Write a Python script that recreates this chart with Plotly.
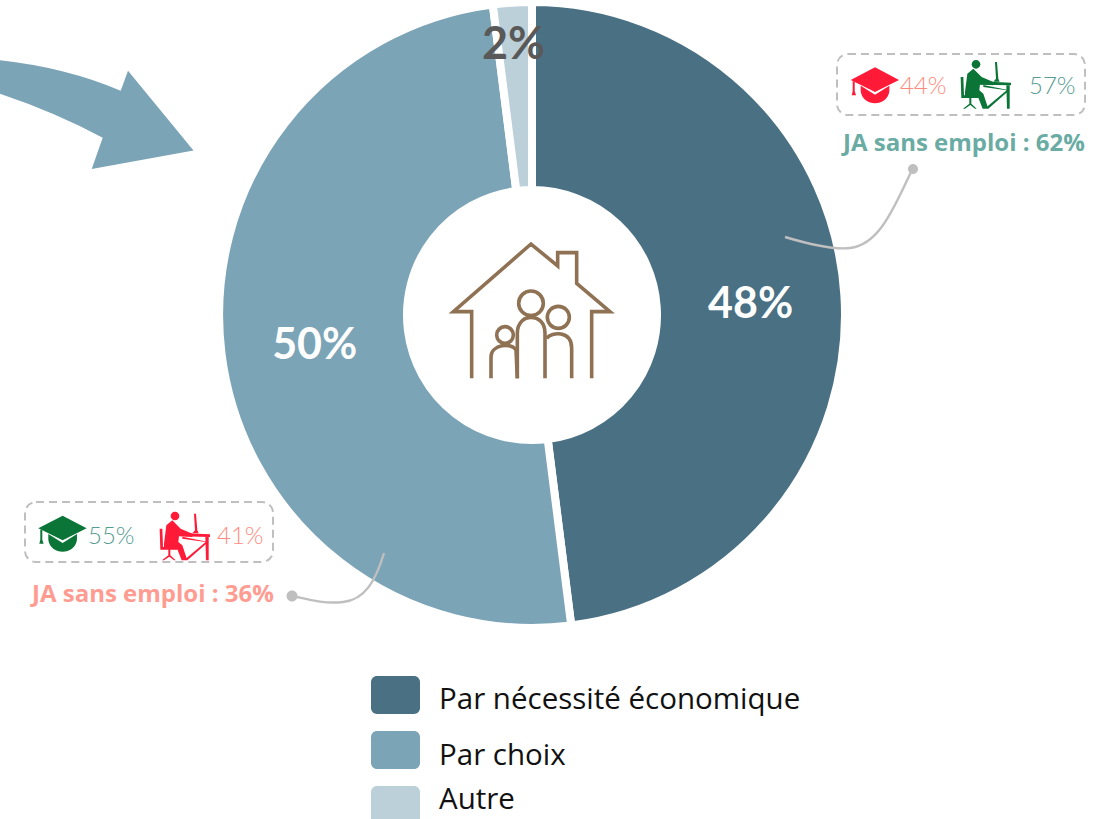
import re
import plotly.graph_objects as go

W, H = 1099, 819

# ---- data ----
categories = ["Par nécessité économique", "Par choix", "Autre"]
shares = [48, 50, 2]
slice_colors = ["#4a7083", "#7ca4b7", "#bcd0da"]
slice_text = ["48%", "50%", ""]
small_label = "2%"

callout_titles = ["JA sans emploi : 62%", "JA sans emploi : 36%"]
diploma_values = ["44%", "55%"]
work_values = ["57%", "41%"]

GREEN_TXT = "#6aaca3"
SALMON_TXT = "#ff9c91"
GREEN_THIN = "#559c92"
SALMON_THIN = "#ff8a7d"
GREEN = "#0a7537"
RED = "#ff1a38"
GREY = "#bfbfbf"
BROWN = "#8f7153"
FONT = "Lato"
FONT2 = "Open Sans"


def px(x):
    return x / W


def py(y):
    return 1 - y / H


def tf(path, ox=0.0, oy=0.0, s=1.0):
    """local pixel path -> paper path"""
    tokens = re.findall(r"[MLCQZ]|-?\d+\.?\d*", path)
    out, i = [], 0
    for t in tokens:
        if t in "MLCQZ":
            out.append(t)
        else:
            v = float(t)
            out.append(f"{px(ox + v * s) if i % 2 == 0 else py(oy + v * s):.5f}")
            i += 1
    return " ".join(out)


shapes = []


def add(path, fill=None, line=None, width=0, dash=None, ox=0.0, oy=0.0, s=1.0):
    shapes.append(dict(
        type="path", xref="paper", yref="paper", layer="above",
        path=tf(path, ox, oy, s),
        fillcolor=fill if fill else "rgba(0,0,0,0)",
        line=dict(color=line if line else "rgba(0,0,0,0)", width=width,
                  **({"dash": dash} if dash else {})),
    ))


def circle(cx, cy, r):
    k = 0.5523 * r
    return (f"M {cx-r} {cy} C {cx-r} {cy-k} {cx-k} {cy-r} {cx} {cy-r} "
            f"C {cx+k} {cy-r} {cx+r} {cy-k} {cx+r} {cy} "
            f"C {cx+r} {cy+k} {cx+k} {cy+r} {cx} {cy+r} "
            f"C {cx-k} {cy+r} {cx-r} {cy+k} {cx-r} {cy} Z")


def rrect(x0, y0, x1, y1, r):
    k = r * 0.45
    return (f"M {x0+r} {y0} L {x1-r} {y0} C {x1-k} {y0} {x1} {y0+k} {x1} {y0+r} "
            f"L {x1} {y1-r} C {x1} {y1-k} {x1-k} {y1} {x1-r} {y1} "
            f"L {x0+r} {y1} C {x0+k} {y1} {x0} {y1-k} {x0} {y1-r} "
            f"L {x0} {y0+r} C {x0} {y0+k} {x0+k} {y0} {x0+r} {y0} Z")


# big arrow
add("M -2 60 Q 65 67 120.7 90.7 L 128 70.7 L 193.5 150.5 L 91.7 169 L 102.7 137.7 "
    "Q 55 112 -2 93 Z", fill=slice_colors[1])

# house + family (zoom coords: 3x, origin 430,230)
hz = dict(ox=430, oy=230, s=1 / 3)
add("M 125 445 L 125 245 L 70 245 L 303 42 L 383 108 L 383 68 L 440 68 L 440 160 "
    "L 540 245 L 485 245 L 485 445", line=BROWN, width=3.6, **hz)
add(circle(303, 220, 37), line=BROWN, width=3.6, **hz)
add(circle(385, 262, 33), line=BROWN, width=3.6, **hz)
add(circle(225, 315, 25), line=BROWN, width=3.6, **hz)
add("M 262 445 L 262 310 C 262 275 285 262 303 262 C 325 262 345 278 345 310 L 345 445",
    line=BROWN, width=3.6, **hz)
add("M 350 325 C 365 305 425 300 425 355 L 425 445", line=BROWN, width=3.6, **hz)
add("M 183 445 L 183 380 C 183 345 245 335 258 360 L 262 445", line=BROWN, width=3.6, **hz)

# callout boxes and leaders
add(rrect(837, 54, 1085, 115, 11), line=GREY, width=2, dash="8px,5px")
add(rrect(25, 502, 273, 562, 11), line=GREY, width=2, dash="8px,5px")
add("M 785 237 C 815 246 835 250 850 248 C 880 245 895 205 912 170", line=GREY, width=2.4)
add(circle(913, 169, 5), fill=GREY)
add("M 384 553 C 376 580 365 600 343 602 C 325 604 310 600 297 597", line=GREY, width=2.4)
add(circle(292, 596, 5.5), fill=GREY)


def cap(ox, oy, color):
    z = dict(ox=ox, oy=oy, s=1 / 3)
    add("M 0 38 L 73 0 L 145 38 L 73 74 Z", fill=color, **z)
    add("M 30 55 L 73 82 L 116 55 L 116 72 C 110 120 36 120 30 72 Z", fill=color, **z)
    add("M 6 42 L 12 42 L 12 72 L 16 84 L 3 84 L 6 72 Z", fill=color, **z)


def worker(ox, oy, color):
    z = dict(ox=ox, oy=oy, s=1 / 3)
    add(circle(48, 22, 13), fill=color, **z)
    add("M 15 105 L 22 50 L 40 35 L 65 60 L 100 75 L 100 85 L 60 82 L 58 100 "
        "L 70 110 L 85 155 L 68 155 L 55 122 L 15 120 Z", fill=color, **z)
    add("M 2 60 L 10 60 L 12 115 L 55 113 L 55 123 L 4 123 Z", fill=color, **z)
    add("M 28 121 L 34 121 L 34 140 L 50 155 L 45 155 L 31 144 L 15 155 L 9 155 L 28 140 Z",
        fill=color, **z)
    add("M 60 73 L 153 77 L 153 85 L 60 83 Z", fill=color, **z)
    add("M 139 85 L 149 85 L 149 155 L 141 155 Z", fill=color, **z)
    add("M 80 150 L 140 100 L 70 90 L 70 84 L 148 100 L 85 155 Z", fill=color, **z)
    add("M 105 15 L 111 15 L 115 65 L 119 74 L 100 74 L 108 65 Z", fill=color, **z)


cap(850.7, 67.3, RED)
worker(960, 57, GREEN)
cap(38.3, 515.7, GREEN)
worker(159, 508.7, RED)

annotations = []


def label(x, y, text, size, color, bold=False, anchor="center", family=FONT, weight=None):
    font = dict(family=family, size=size, color=color)
    if weight:
        font["weight"] = weight
    annotations.append(dict(
        xref="paper", yref="paper", x=px(x), y=py(y), text=f"<b>{text}</b>" if bold else text,
        showarrow=False, xanchor=anchor, yanchor="middle", font=font,
    ))


label(923, 85, diploma_values[0], 24, SALMON_THIN, weight=300)
label(1052, 85, work_values[0], 24, GREEN_THIN, weight=300)
label(963, 141, callout_titles[0], 24, GREEN_TXT, bold=True, family=FONT2)
label(111, 534, diploma_values[1], 24, GREEN_THIN, weight=300)
label(240, 534, work_values[1], 24, SALMON_THIN, weight=300)
label(152, 592, callout_titles[1], 24, SALMON_TXT, bold=True, family=FONT2)
label(513, 42, small_label, 45, "#595959", bold=True)

# legend drawn large as in the source
for name, color, top, text_y in zip(categories, slice_colors, [676, 731, 786], [697, 753, 797.5]):
    add(rrect(371, top, 420, top + 38, 6), fill=color)
    label(437, text_y, name, 29.5, "#111111", anchor="left", family=FONT2)

fig = go.Figure(go.Pie(
    labels=categories, values=shares, sort=False, direction="clockwise", rotation=0,
    hole=125 / 313,
    marker=dict(colors=slice_colors, line=dict(color="white", width=8)),
    text=slice_text, textinfo="text", textposition="inside",
    insidetextorientation="horizontal",
    textfont=dict(family=FONT, size=43, color="white", weight="bold"),
    hoverinfo="label+percent",
    domain=dict(x=[px(219), px(845)], y=[py(628), py(2)]),
    showlegend=False,
))
fig.update_layout(
    width=W, height=H, margin=dict(l=0, r=0, t=0, b=0),
    paper_bgcolor="white", plot_bgcolor="white",
    shapes=shapes, annotations=annotations, showlegend=False,
)
fig.write_html("out.html", config=dict(displayModeBar=False),
               post_script="document.body.style.margin='0';document.body.style.overflow='hidden';")
